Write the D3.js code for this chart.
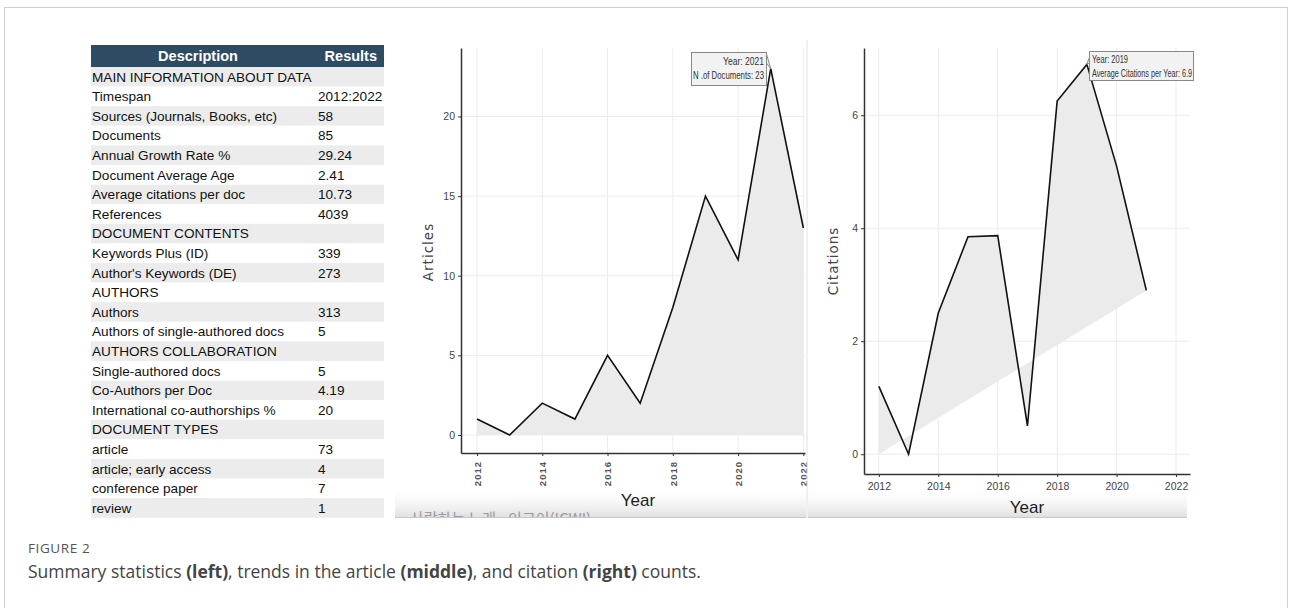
<!DOCTYPE html>
<html>
<head>
<meta charset="utf-8">
<script src="https://cdn.jsdelivr.net/npm/d3@7/dist/d3.min.js"></script>
<style>
  html, body { margin: 0; padding: 0; background: #fff; }
  svg { display: block; }
</style>
</head>
<body>
<svg id="fig" width="1290" height="608"></svg>
<script>
// ---- Summary table ----
const tableHeader = ["Description", "Results"];
const tableLabels = [
  "MAIN INFORMATION ABOUT DATA", "Timespan", "Sources (Journals, Books, etc)", "Documents",
  "Annual Growth Rate %", "Document Average Age", "Average citations per doc", "References",
  "DOCUMENT CONTENTS", "Keywords Plus (ID)", "Author's Keywords (DE)", "AUTHORS", "Authors",
  "Authors of single-authored docs", "AUTHORS COLLABORATION", "Single-authored docs",
  "Co-Authors per Doc", "International co-authorships %", "DOCUMENT TYPES", "article",
  "article; early access", "conference paper", "review"
];
const tableValues = [
  "", "2012:2022", "58", "85", "29.24", "2.41", "10.73", "4039", "", "339", "273", "", "313",
  "5", "", "5", "4.19", "20", "", "73", "4", "7", "1"
];

// ---- Annual scientific production ----
const articleYears = [2012, 2013, 2014, 2015, 2016, 2017, 2018, 2019, 2020, 2021, 2022];
const articleCounts = [1, 0, 2, 1, 5, 2, 8, 15, 11, 23, 13];
const articleYTicks = [0, 5, 10, 15, 20];
const articleXTicks = [2012, 2014, 2016, 2018, 2020, 2022];

// ---- Average citations per year ----
const citationYears = [2012, 2013, 2014, 2015, 2016, 2017, 2018, 2019, 2020, 2021];
const citationValues = [1.2, 0, 2.5, 3.85, 3.87, 0.5, 6.25, 6.9, 5.1, 2.9];
const citationYTicks = [0, 2, 4, 6];
const citationXTicks = [2012, 2014, 2016, 2018, 2020, 2022];

const captionTitle = "FIGURE 2";
const captionParts = [
  ["Summary statistics ", false], ["(left)", true], [", trends in the article ", false],
  ["(middle)", true], [", and citation ", false], ["(right)", true], [" counts.", false]
];

const svg = d3.select("#fig");
const narrow = "'Liberation Sans Narrow', 'Arial Narrow', sans-serif";
const sans = "'Liberation Sans', Arial, Helvetica, sans-serif";
const capFont = "'Open Sans', Lato, sans-serif";

// outer figure frame
svg.append("rect").attr("x", 4.5).attr("y", 7.5).attr("width", 1283).attr("height", 700)
  .attr("fill", "none").attr("stroke", "#cfcfcf").attr("stroke-width", 1);

// ---------- table ----------
const tX0 = 91, tX1 = 384, tHeadY = 45, tHeadH = 22, rowH = 19.6, valX = 318;
const table = svg.append("g");
table.append("rect").attr("x", tX0).attr("y", tHeadY).attr("width", tX1 - tX0).attr("height", tHeadH)
  .attr("fill", "#2e4b64");
table.append("text").attr("x", 198).attr("y", tHeadY + 16).attr("text-anchor", "middle")
  .attr("font-family", sans).attr("font-size", 14.5).attr("font-weight", "bold").attr("fill", "#fff")
  .text(tableHeader[0]);
table.append("text").attr("x", 377).attr("y", tHeadY + 16).attr("text-anchor", "end")
  .attr("font-family", sans).attr("font-size", 14.5).attr("font-weight", "bold").attr("fill", "#fff")
  .text(tableHeader[1]);

const rows = table.selectAll("g.row").data(tableLabels).join("g").attr("class", "row")
  .attr("transform", (d, i) => `translate(0,${tHeadY + tHeadH + i * rowH})`);
rows.append("rect").attr("x", tX0).attr("width", tX1 - tX0).attr("height", rowH)
  .attr("fill", (d, i) => i % 2 === 0 ? "#ececec" : "#ffffff");
rows.append("text").attr("x", tX0 + 1).attr("y", 14.5)
  .attr("font-family", sans).attr("font-size", 13.6).attr("fill", "#111").text(d => d);
rows.append("text").attr("x", valX).attr("y", 14.5)
  .attr("font-family", sans).attr("font-size", 13.6).attr("fill", "#111").text((d, i) => tableValues[i]);

// ---------- shared helpers ----------
function styleAxis(g) {
  g.select(".domain").attr("stroke", "#333").attr("stroke-width", 1.5);
  g.selectAll(".tick line").attr("stroke", "#333").attr("stroke-width", 1);
  g.selectAll(".tick text").attr("font-family", narrow).attr("font-size", 10.5).attr("fill", "#444");
}
function bottomBand(x0, x1, id) {
  const grad = svg.append("defs").append("linearGradient").attr("id", id)
    .attr("x1", 0).attr("y1", 0).attr("x2", 0).attr("y2", 1);
  grad.append("stop").attr("offset", "0%").attr("stop-color", "#ffffff").attr("stop-opacity", 0);
  grad.append("stop").attr("offset", "100%").attr("stop-color", "#dedede").attr("stop-opacity", 1);
  svg.append("rect").attr("x", x0).attr("y", 486).attr("width", x1 - x0).attr("height", 32)
    .attr("fill", `url(#${id})`);
  svg.append("line").attr("x1", x0).attr("x2", x1).attr("y1", 517.5).attr("y2", 517.5)
    .attr("stroke", "#c8c8c8").attr("stroke-width", 1);
}
// two-line hover label squeezed into a fixed width, like a compact tooltip
function hoverLabel(g, x, anchor, y1, lines, widths) {
  lines.forEach((t, i) => {
    g.append("text").attr("x", x).attr("y", y1 + i * 14).attr("text-anchor", anchor)
      .attr("font-family", narrow).attr("font-size", 10.5).attr("fill", "#333")
      .attr("textLength", widths[i]).attr("lengthAdjust", "spacingAndGlyphs").text(t);
  });
}

// ---------- middle: articles per year ----------
bottomBand(395, 806, "bandMid");
svg.append("clipPath").attr("id", "clipMid").append("rect")
  .attr("x", 395).attr("y", 486).attr("width", 411).attr("height", 31);
svg.append("text").attr("x", 410).attr("y", 524).attr("clip-path", "url(#clipMid)")
  .attr("font-family", "'Noto Sans CJK KR', sans-serif").attr("font-size", 15).attr("fill", "#9a9a9a")
  .text("사랑하는 노래 - 이그이(ICWI)");

const xA = d3.scaleLinear().domain([2011.51, 2022.05]).range([461, 805]);
const yA = d3.scaleLinear().domain([-1.13, 24.3]).range([453, 48]);
const gA = svg.append("g");

gA.selectAll("line.hg").data(articleYTicks).join("line").attr("class", "hg")
  .attr("x1", 461).attr("x2", 805).attr("y1", d => yA(d)).attr("y2", d => yA(d))
  .attr("stroke", "#ececec").attr("stroke-width", 1);
gA.selectAll("line.vg").data(articleXTicks).join("line").attr("class", "vg")
  .attr("x1", d => xA(d)).attr("x2", d => xA(d)).attr("y1", 48).attr("y2", 453)
  .attr("stroke", "#ececec").attr("stroke-width", 1);

const artData = articleYears.map((y, i) => [y, articleCounts[i]]);
gA.append("path").datum(artData)
  .attr("d", d3.area().x(d => xA(d[0])).y0(yA(0)).y1(d => yA(d[1])))
  .attr("fill", "#ebebeb");
gA.append("path").datum(artData)
  .attr("d", d3.line().x(d => xA(d[0])).y(d => yA(d[1])))
  .attr("fill", "none").attr("stroke", "#111").attr("stroke-width", 1.6);

const axAx = gA.append("g").attr("transform", "translate(0,453)")
  .call(d3.axisBottom(xA).tickValues(articleXTicks).tickFormat(d3.format("d")).tickSize(3).tickSizeOuter(0));
styleAxis(axAx);
axAx.selectAll(".tick text").attr("transform", "rotate(-90)").attr("text-anchor", "end")
  .attr("x", -8).attr("y", 0).attr("dy", "0.35em").attr("font-family", sans).attr("font-size", 9.5)
  .attr("font-weight", "bold").attr("letter-spacing", 1).attr("fill", "#555");
const ayAx = gA.append("g").attr("transform", "translate(461,0)")
  .call(d3.axisLeft(yA).tickValues(articleYTicks).tickSize(3).tickSizeOuter(0).tickPadding(3));
styleAxis(ayAx);

gA.append("text").attr("x", 638).attr("y", 506).attr("text-anchor", "middle")
  .attr("font-family", narrow).attr("font-size", 17).attr("fill", "#222").text("Year");
gA.append("text").attr("transform", "translate(433,252) rotate(-90)").attr("text-anchor", "middle")
  .attr("font-family", "'DejaVu Sans', Verdana, sans-serif").attr("font-size", 13.5)
  .attr("letter-spacing", 1).attr("fill", "#444").text("Articles");

// hover label at the peak year
const peakA = artData[d3.maxIndex(artData, d => d[1])];
const pAx = xA(peakA[0]), pAy = yA(peakA[1]);
gA.append("path").attr("d", `M${pAx - 4},${pAy - 14} L${pAx},${pAy} L${pAx - 6},${pAy - 8}`)
  .attr("fill", "#f2f2f2").attr("stroke", "#888").attr("stroke-width", 1);
gA.append("rect").attr("x", 691.5).attr("y", 52.5).attr("width", 75).attr("height", 33)
  .attr("fill", "#f2f2f2").attr("stroke", "#888").attr("stroke-width", 1);
hoverLabel(gA, 764, "end", 65,
  [`Year: ${peakA[0]}`, `N .of Documents: ${peakA[1]}`], [41, 71]);

// panel divider
svg.append("line").attr("x1", 807).attr("x2", 807).attr("y1", 40).attr("y2", 518)
  .attr("stroke", "#e2e2e2").attr("stroke-width", 1);

// ---------- right: average citations per year ----------
bottomBand(808, 1187, "bandRight");

const xC = d3.scaleLinear().domain([2011.5, 2022.47]).range([864, 1190]);
const yC = d3.scaleLinear().domain([-0.35, 7.19]).range([474, 48]);
const gC = svg.append("g");

gC.selectAll("line.hg").data(citationYTicks).join("line").attr("class", "hg")
  .attr("x1", 864).attr("x2", 1190).attr("y1", d => yC(d)).attr("y2", d => yC(d))
  .attr("stroke", "#ececec").attr("stroke-width", 1);
gC.selectAll("line.vg").data(citationXTicks).join("line").attr("class", "vg")
  .attr("x1", d => xC(d)).attr("x2", d => xC(d)).attr("y1", 48).attr("y2", 474)
  .attr("stroke", "#ececec").attr("stroke-width", 1);

const citData = citationYears.map((y, i) => [y, citationValues[i]]);
// filled shape closes back to the baseline at the first year
const citPoly = [[citationYears[0], 0]].concat(citData);
gC.append("path").datum(citPoly)
  .attr("d", d => d3.line().x(p => xC(p[0])).y(p => yC(p[1]))(d) + "Z")
  .attr("fill", "#ebebeb").attr("fill-rule", "nonzero");
gC.append("path").datum(citData)
  .attr("d", d3.line().x(d => xC(d[0])).y(d => yC(d[1])))
  .attr("fill", "none").attr("stroke", "#111").attr("stroke-width", 1.6);

const cxAx = gC.append("g").attr("transform", "translate(0,474)")
  .call(d3.axisBottom(xC).tickValues(citationXTicks).tickFormat(d3.format("d")).tickSize(3).tickSizeOuter(0).tickPadding(6));
styleAxis(cxAx);
const cyAx = gC.append("g").attr("transform", "translate(864,0)")
  .call(d3.axisLeft(yC).tickValues(citationYTicks).tickSize(3).tickSizeOuter(0).tickPadding(3));
styleAxis(cyAx);

gC.append("text").attr("x", 1027).attr("y", 513).attr("text-anchor", "middle")
  .attr("font-family", narrow).attr("font-size", 17).attr("fill", "#222").text("Year");
gC.append("text").attr("transform", "translate(838,261) rotate(-90)").attr("text-anchor", "middle")
  .attr("font-family", "'DejaVu Sans', Verdana, sans-serif").attr("font-size", 13.5)
  .attr("letter-spacing", 1).attr("fill", "#444").text("Citations");

const peakC = citData[d3.maxIndex(citData, d => d[1])];
const pCx = xC(peakC[0]), pCy = yC(peakC[1]);
gC.append("path").attr("d", `M${pCx + 2},${pCy - 6} L${pCx},${pCy} L${pCx + 7},${pCy - 4}`)
  .attr("fill", "#f2f2f2").attr("stroke", "#888").attr("stroke-width", 1);
gC.append("rect").attr("x", 1089.5).attr("y", 51.5).attr("width", 104).attr("height", 29)
  .attr("fill", "#f2f2f2").attr("stroke", "#888").attr("stroke-width", 1);
hoverLabel(gC, 1092, "start", 63,
  [`Year: ${peakC[0]}`, `Average Citations per Year: ${peakC[1]}`], [36, 100]);

// ---------- caption ----------
svg.append("text").attr("x", 28).attr("y", 553)
  .attr("font-family", capFont).attr("font-size", 13.5).attr("letter-spacing", 0.6).attr("fill", "#555")
  .text(captionTitle);
const cap = svg.append("text").attr("x", 28).attr("y", 578)
  .attr("font-family", capFont).attr("font-size", 17.5).attr("fill", "#444");
cap.selectAll("tspan").data(captionParts).join("tspan")
  .attr("font-weight", d => d[1] ? "bold" : "normal")
  .text(d => d[0]);
</script>
</body>
</html>
